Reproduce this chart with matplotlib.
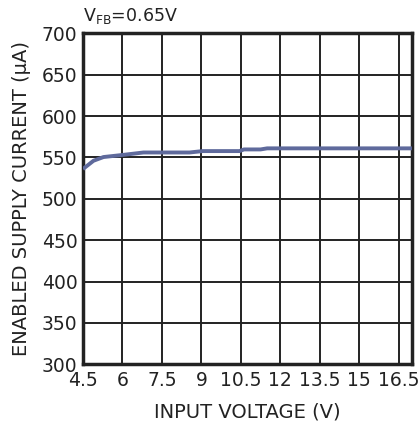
import numpy as np
import matplotlib
matplotlib.use("Agg")
import matplotlib.pyplot as plt

plt.rcParams['font.family'] = ['DejaVu Sans']
plt.rcParams['mathtext.fontset'] = 'dejavusans'

# data
vin = [4.5, 4.9, 5.28, 6.0, 6.8, 8.55, 9.05, 10.45, 10.62, 11.25, 11.5, 17.0]
icc = [536, 546, 550.5, 553, 556, 556, 557.7, 557.7, 559.7, 559.7, 561, 561]

xticks = [4.5, 6, 7.5, 9, 10.5, 12, 13.5, 15, 16.5]
xticklabels = ['4.5', '6', '7.5', '9', '10.5', '12', '13.5', '15', '16.5']
yticks = [300, 350, 400, 450, 500, 550, 600, 650, 700]

fig = plt.figure(figsize=(4.19, 4.28), dpi=100)
ax = fig.add_axes([0.198, 0.149, 0.785, 0.773])

ax.plot(vin, icc, color='#5f6a9c', lw=2.8, solid_capstyle='butt', zorder=3)

ax.set_xlim(4.5, 17)
ax.set_ylim(300, 700)
ax.set_xticks(xticks)
ax.set_xticklabels(xticklabels)
ax.set_yticks(yticks)
ax.tick_params(length=0, labelsize=13.5, colors='#222222')
ax.tick_params(axis='x', pad=5)
ax.tick_params(axis='y', pad=4)
ax.grid(True, color='#222222', lw=1.4)
for s in ax.spines.values():
    s.set_linewidth(2.5)
    s.set_color('#222222')

ax.set_xlabel('INPUT VOLTAGE (V)', fontsize=14, labelpad=9, color='#222222')
ax.set_ylabel('ENABLED SUPPLY CURRENT (\u03bcA)', fontsize=14, labelpad=8, color='#222222')
fig.text(83/419, 1 - 21/428, r'V$_{\mathrm{FB}}$=0.65V', fontsize=12.5,
         ha='left', va='baseline', color='#222222')

fig.savefig('out.png', dpi=100)
